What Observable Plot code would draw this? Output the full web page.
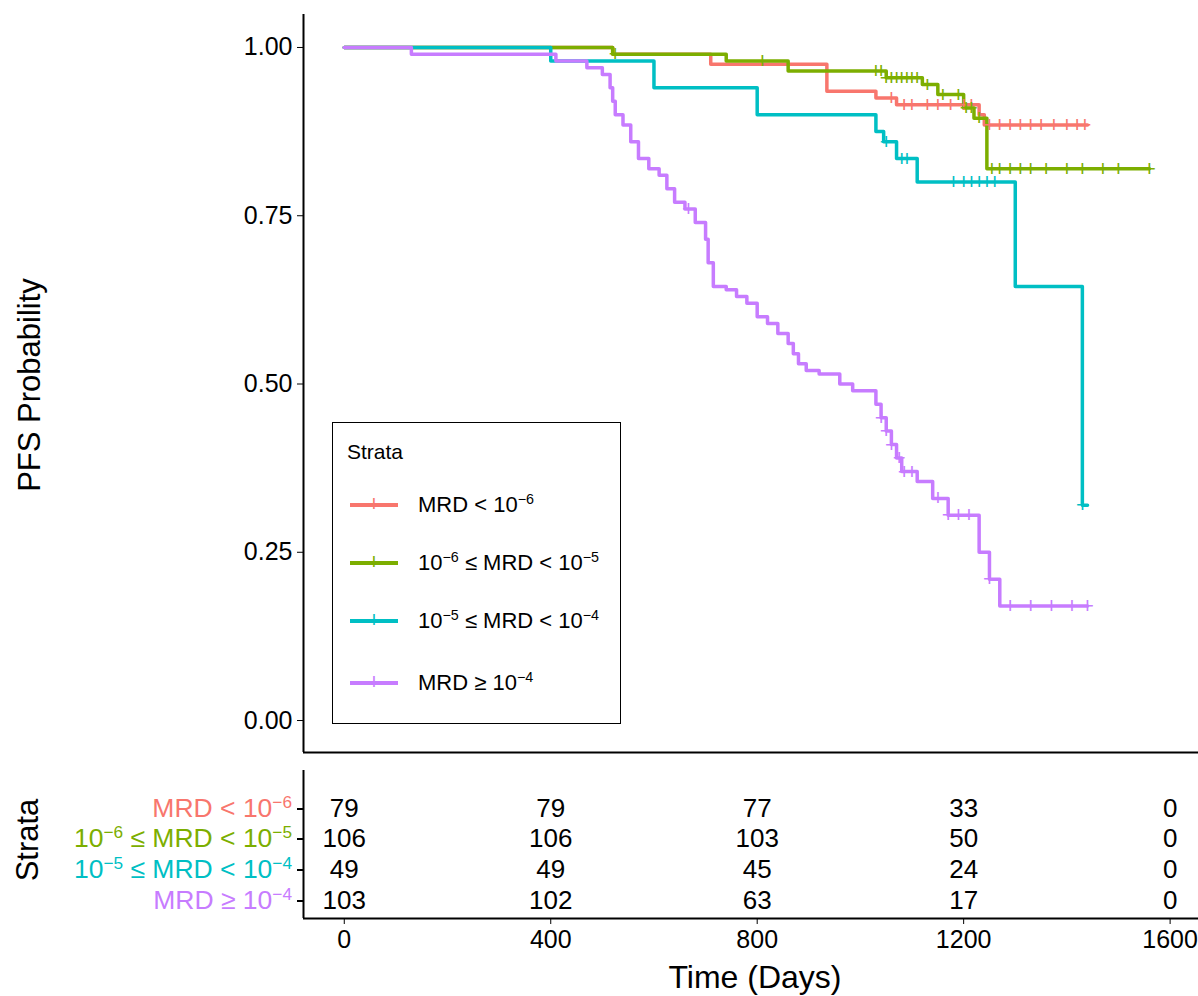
<!DOCTYPE html>
<html><head><meta charset="utf-8">
<script src="https://cdn.jsdelivr.net/npm/d3@7"></script>
<script src="https://cdn.jsdelivr.net/npm/@observablehq/plot@0.6"></script>
<style>
body{margin:0;background:#fff;font-family:"Liberation Sans",Arial,sans-serif}
#wrap{position:relative;width:1198px;height:996px}
#main,#tab{position:absolute;left:0}
#main{top:0}#tab{top:770px}
.ov{position:absolute;font-family:"Liberation Sans",Arial,sans-serif;white-space:nowrap}
sup{font-size:65%;vertical-align:0;position:relative;top:-0.55em}
</style></head><body>
<div id="wrap"><div id="main"></div><div id="tab"></div></div>
<script>
const strata = ["MRD < 10^-6","10^-6 ≤ MRD < 10^-5","10^-5 ≤ MRD < 10^-4","MRD ≥ 10^-4"];
const colors = ["#F8766D","#7CAE00","#00BFC4","#C77CFF"];
const t1 = [0,520,710,935,1030,1070,1230,1240,1440];
const s1 = [1,0.99,0.975,0.935,0.925,0.915,0.90,0.885,0.885];
const c1 = [1060,1085,1100,1130,1150,1175,1200,1215,1250,1270,1290,1310,1330,1350,1375,1400,1420,1435];
const t2 = [0,520,740,860,1050,1120,1150,1200,1220,1245,1560];
const s2 = [1,0.99,0.98,0.965,0.955,0.945,0.93,0.91,0.895,0.82,0.82];
const c2 = [525,810,1030,1040,1050,1060,1070,1080,1090,1100,1110,1130,1160,1190,1205,1215,1230,1255,1270,1290,1310,1330,1360,1400,1430,1470,1500,1560];
const t3 = [0,400,600,800,1030,1045,1070,1110,1300,1430,1440];
const s3 = [1,0.98,0.94,0.90,0.875,0.86,0.835,0.80,0.645,0.32,0.32];
const c3 = [1050,1080,1090,1180,1200,1215,1230,1245,1260,1430];
const t4 = [0,130,410,470,500,515,520,525,540,555,570,590,610,625,640,660,680,700,705,715,740,760,780,800,820,840,860,870,880,895,920,960,985,1000,1030,1040,1050,1060,1070,1080,1100,1110,1140,1170,1230,1250,1270,1440];
const s4 = [1,0.99,0.98,0.97,0.96,0.94,0.92,0.90,0.885,0.86,0.835,0.82,0.81,0.79,0.77,0.76,0.74,0.715,0.68,0.645,0.64,0.63,0.62,0.60,0.59,0.575,0.56,0.545,0.53,0.52,0.515,0.5,0.49,0.49,0.47,0.45,0.43,0.41,0.39,0.37,0.37,0.355,0.33,0.305,0.25,0.21,0.17,0.17];
const c4 = [667,1040,1050,1060,1075,1085,1100,1150,1170,1190,1210,1250,1290,1330,1370,1410,1440];
const riskTimes = [0,400,800,1200,1600];
const risk = [[79,79,77,33,0],[106,106,103,50,0],[49,49,45,24,0],[103,102,63,17,0]];
const xTicks = [0,400,800,1200,1600];
const yTicks = [0,0.25,0.5,0.75,1];

const series = [[t1,s1,c1],[t2,s2,c2],[t3,s3,c3],[t4,s4,c4]];
const lines=[], cens=[];
series.forEach(([t,s,c],i)=>{
  t.forEach((x,j)=>lines.push({t:x,s:s[j],g:i}));
  c.forEach(x=>{let j=d3.bisectRight(t,x)-1; cens.push({t:x,s:s[Math.max(0,j)],g:i});});
});
const font='"Liberation Sans",Arial,sans-serif';
const xd=[-79,1655];
const main = Plot.plot({
  width:1198,height:770,marginLeft:303,marginRight:0,marginTop:14,marginBottom:18,
  style:{fontFamily:font,fontSize:"26px",color:"#000",background:"#fff"},
  x:{domain:xd,axis:null},
  y:{domain:[-0.0475,1.049],axis:null},
  color:{domain:[0,1,2,3],range:colors},
  marks:[
    Plot.line(lines,{x:"t",y:"s",z:"g",stroke:d=>d.g,curve:"step-after",strokeWidth:3.5}),
    Plot.text(cens,{x:"t",y:"s",text:()=>"+",fill:d=>d.g,fontSize:22}),
    Plot.axisY({ticks:yTicks,tickFormat:d3.format(".2f"),label:null,tickSize:6,tickPadding:5,fontSize:25}),
    Plot.ruleX([xd[0]],{strokeWidth:2}),
    Plot.ruleY([-0.0475],{strokeWidth:2})
  ]
});
document.getElementById("main").append(main);
const rows=[];
risk.forEach((r,i)=>r.forEach((v,j)=>rows.push({t:riskTimes[j],g:i,v})));
const tab = Plot.plot({
  width:1198,height:226,marginLeft:303,marginRight:0,marginTop:0,marginBottom:78,
  style:{fontFamily:font,fontSize:"26px",color:"#000",background:"#fff"},
  x:{domain:xd,axis:null},
  y:{domain:[-1.24,3.59],reverse:true,axis:null},
  marks:[
    Plot.text(rows,{x:"t",y:"g",text:"v",fontSize:26}),
    Plot.axisX({ticks:xTicks,tickFormat:d=>String(d),tickSize:6,tickPadding:6,fontSize:25,label:null}),
    Plot.ruleX([xd[0]],{y1:-1.24,y2:3.59,strokeWidth:2}),
    Plot.ruleY([3.59],{strokeWidth:2})
  ]
});
document.getElementById("tab").append(tab);
const wrap=document.getElementById("wrap");
function ov(html,css){const d=document.createElement("div");d.className="ov";d.innerHTML=html;d.style.cssText+=css;wrap.append(d);return d;}
const lab=["MRD &lt; 10<sup>−6</sup>","10<sup>−6</sup> ≤ MRD &lt; 10<sup>−5</sup>","10<sup>−5</sup> ≤ MRD &lt; 10<sup>−4</sup>","MRD ≥ 10<sup>−4</sup>"];
ov("PFS Probability","left:30px;top:385px;font-size:31px;transform:translate(-50%,-50%) rotate(-90deg)");
ov("Strata","left:28px;top:840px;font-size:31px;transform:translate(-50%,-50%) rotate(-90deg)");
ov("Time (Days)","left:755px;top:977px;font-size:32px;transform:translate(-50%,-50%)");
const ry=[808,838,869,900];
lab.forEach((l,i)=>{
  ov(l,`right:${1198-292}px;top:${ry[i]}px;font-size:26.5px;color:${colors[i]};transform:translateY(-50%)`);
  ov("",`left:297px;top:${ry[i]}px;width:6px;height:1.5px;background:#000`);
});
ov("","left:332px;top:422px;width:287px;height:300px;border:1.3px solid #000;background:#fff");
ov("Strata","left:347px;top:440px;font-size:21px");
const ly=[505,563,621,683];
lab.forEach((l,i)=>{
  ov("",`left:350px;top:${ly[i]-2}px;width:48px;height:4px;background:${colors[i]}`);
  ov("+",`left:374px;top:${ly[i]}px;font-size:22px;color:${colors[i]};transform:translate(-50%,-52%)`);
  ov(l,`left:418px;top:${ly[i]}px;font-size:22px;transform:translateY(-50%)`);
});
</script></body></html>
